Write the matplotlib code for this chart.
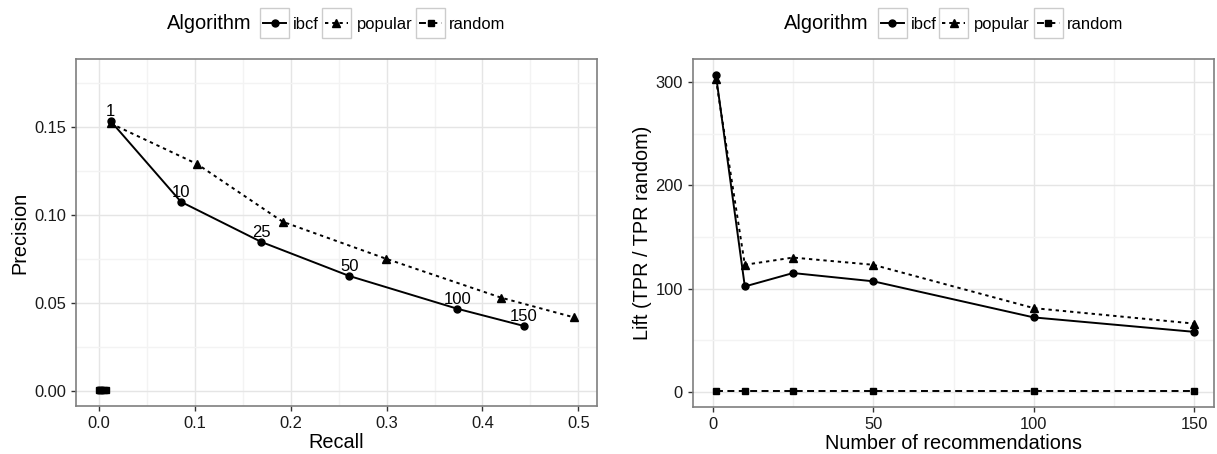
import matplotlib
matplotlib.use('Agg')
import matplotlib.pyplot as plt
from matplotlib.lines import Line2D
from matplotlib.patches import Rectangle

# data
n_recs = [1, 10, 25, 50, 100, 150]
algorithms = ['ibcf', 'popular', 'random']

ibcf_recall = [0.0122, 0.0855, 0.1690, 0.2611, 0.3738, 0.4434]
ibcf_precision = [0.1532, 0.1074, 0.0847, 0.0653, 0.0467, 0.0369]
popular_recall = [0.0122, 0.1025, 0.1916, 0.2994, 0.4194, 0.4955]
popular_precision = [0.1519, 0.1288, 0.0961, 0.0751, 0.0530, 0.0418]
random_recall = [0.00004, 0.0008, 0.0015, 0.0024, 0.0052, 0.0076]
random_precision = [0.0005, 0.0005, 0.0005, 0.0005, 0.0005, 0.0005]

ibcf_lift = [307, 102, 115, 107, 72, 58]
popular_lift = [303, 123, 130, 123, 81, 66]
random_lift = [1, 1, 1, 1, 1, 1]

W, H = 1217, 454

plt.rcParams['font.family'] = ['Liberation Sans', 'DejaVu Sans']
plt.rcParams['lines.scale_dashes'] = False

styles = {
    'ibcf': dict(marker='o', ms=5, ls='-'),
    'popular': dict(marker='^', ms=6, ls=(0, (2.4, 2.8))),
    'random': dict(marker='s', ms=5, ls=(0, (5.0, 3.2))),
}


def fx(px):
    return px / W


def fy(py):
    return 1 - py / H


def style_axes(ax, xmajor, xminor, ymajor, yminor):
    ax.set_xticks(xmajor)
    ax.set_xticks(xminor, minor=True)
    ax.set_yticks(ymajor)
    ax.set_yticks(yminor, minor=True)
    ax.grid(which='major', color='#E5E5E5', lw=1.0)
    ax.grid(which='minor', color='#F3F3F3', lw=1.0)
    ax.set_axisbelow(True)
    for s in ax.spines.values():
        s.set_color('#7F7F7F')
        s.set_linewidth(1.2)
    ax.tick_params(which='major', length=3.6, width=1.0, color='#333333',
                   labelsize=11.9, labelcolor='#1A1A1A', pad=3.6)
    ax.tick_params(which='minor', length=0)


def draw_legend(fig, x0):
    fig.text(fx(x0), fy(29.3), 'Algorithm', fontsize=14.4,
             va='baseline', ha='left')
    keys = [(93.3, 126.6), (155, 190), (249.3, 282.6)]
    for alg, (bx, tx) in zip(algorithms, keys):
        left = x0 + bx
        fig.add_artist(Rectangle((fx(left), fy(38.3)), 29 / W, 30 / H,
                                 transform=fig.transFigure, facecolor='white',
                                 edgecolor='#CCCCCC', lw=1.0))
        st = styles[alg]
        fig.add_artist(Line2D([fx(left + 3), fx(left + 14.5), fx(left + 26)],
                              [fy(23.3)] * 3, transform=fig.transFigure,
                              color='black', lw=1.4, ls=st['ls'],
                              marker=st['marker'], ms=st['ms'], markevery=[1]))
        fig.text(fx(x0 + tx), fy(28.8), alg, fontsize=11.9,
                 va='baseline', ha='left')


fig = plt.figure(figsize=(W / 100, H / 100), dpi=100)
ax1 = fig.add_axes([fx(76), fy(406), 521.3 / W, 346.7 / H])
ax2 = fig.add_axes([fx(692.7), fy(406.7), 521.3 / W, 347.4 / H])

# precision / recall
pr = {
    'ibcf': (ibcf_recall, ibcf_precision),
    'popular': (popular_recall, popular_precision),
    'random': (random_recall, random_precision),
}
for alg in algorithms:
    x, y = pr[alg]
    st = styles[alg]
    ax1.plot(x, y, color='black', lw=1.4, ls=st['ls'],
             marker=st['marker'], ms=st['ms'])
for n, x, y in zip(n_recs, ibcf_recall, ibcf_precision):
    ax1.annotate(str(n), (x, y), xytext=(0, 3.6), textcoords='offset points',
                 ha='center', va='baseline', fontsize=12)

ax1.set_xlim(-0.024, 0.5198)
ax1.set_ylim(-0.0085, 0.1883)
style_axes(ax1, [0, 0.1, 0.2, 0.3, 0.4, 0.5], [0.05, 0.15, 0.25, 0.35, 0.45],
           [0, 0.05, 0.10, 0.15], [0.025, 0.075, 0.125, 0.175])
ax1.set_xticklabels(['0.0', '0.1', '0.2', '0.3', '0.4', '0.5'])
ax1.set_yticklabels(['0.00', '0.05', '0.10', '0.15'])
ax1.set_xlabel('Recall', fontsize=14.3)
ax1.xaxis.set_label_coords(0.5, -0.079)
ax1.set_ylabel('Precision', fontsize=14.3)
ax1.yaxis.set_label_coords(-0.0898, 0.5)

# lift
lift = {'ibcf': ibcf_lift, 'popular': popular_lift, 'random': random_lift}
for alg in algorithms:
    st = styles[alg]
    ax2.plot(n_recs, lift[alg], color='black', lw=1.4, ls=st['ls'],
             marker=st['marker'], ms=st['ms'])

ax2.set_xlim(-6.23, 156.1)
ax2.set_ylim(-14.5, 322.1)
style_axes(ax2, [0, 50, 100, 150], [25, 75, 125],
           [0, 100, 200, 300], [50, 150, 250])
ax2.set_xlabel('Number of recommendations', fontsize=14.3)
ax2.xaxis.set_label_coords(0.5, -0.079)
ax2.set_ylabel('Lift (TPR / TPR random)', fontsize=14.3)
ax2.yaxis.set_label_coords(-0.0778, 0.5)

draw_legend(fig, 166.7)
draw_legend(fig, 784.3)

plt.savefig('out.png', dpi=100)
